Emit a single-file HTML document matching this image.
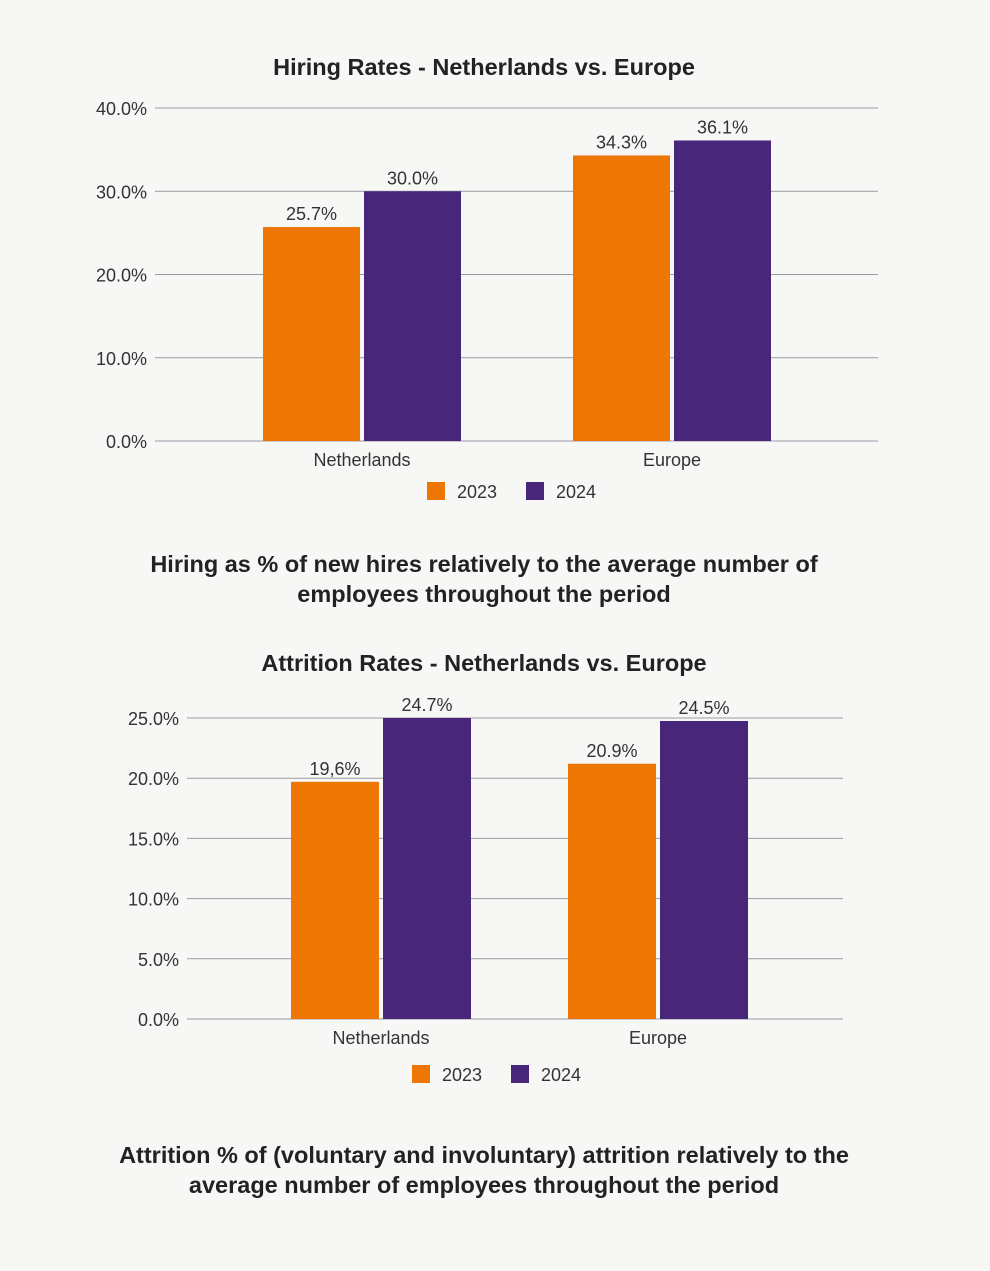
<!DOCTYPE html>
<html><head><meta charset="utf-8">
<style>
html,body{margin:0;padding:0;background:#f7f7f5;}
body{width:990px;height:1266px;overflow:hidden;font-family:"Liberation Sans",sans-serif;}
svg text{font-family:"Liberation Sans",sans-serif;}
</style></head>
<body>
<svg id="svg" width="990" height="1266">
<rect width="990" height="1266" fill="#f7f7f5"/>
<text x="484" y="75" text-anchor="middle" font-size="23.5" font-weight="bold" fill="#222">Hiring Rates - Netherlands vs. Europe</text>
<text x="484" y="572" text-anchor="middle" font-size="23.5" font-weight="bold" fill="#222">Hiring as % of new hires relatively to the average number of</text>
<text x="484" y="602" text-anchor="middle" font-size="23.5" font-weight="bold" fill="#222">employees throughout the period</text>
<text x="484" y="671" text-anchor="middle" font-size="23.5" font-weight="bold" fill="#222">Attrition Rates - Netherlands vs. Europe</text>
<text x="484" y="1163" text-anchor="middle" font-size="23.5" font-weight="bold" fill="#222">Attrition % of (voluntary and involuntary) attrition relatively to the</text>
<text x="484" y="1193" text-anchor="middle" font-size="23.5" font-weight="bold" fill="#222">average number of employees throughout the period</text>
</svg>
<script>
const categories = ["Netherlands", "Europe"];
const seriesNames = ["2023", "2024"];
const hiring2023 = [25.7, 34.3];
const hiring2024 = [30.0, 36.1];
const hiringLabels2023 = ["25.7%", "34.3%"];
const hiringLabels2024 = ["30.0%", "36.1%"];
const hiringTicks = [0, 10, 20, 30, 40];
const attrition2023 = [19.7, 21.2];
const attrition2024 = [25.0, 24.75];
const attritionLabels2023 = ["19,6%", "20.9%"];
const attritionLabels2024 = ["24.7%", "24.5%"];
const attritionTicks = [0, 5, 10, 15, 20, 25];

const NS = "http://www.w3.org/2000/svg";
const svg = document.getElementById("svg");
const colors = ["#ee7703", "#48267a"];
function mk(tag, attrs, parent) {
  const e = document.createElementNS(NS, tag);
  for (const k in attrs) e.setAttribute(k, attrs[k]);
  (parent || svg).appendChild(e);
  return e;
}
function chart(cfg) {
  const g = mk("g", {});
  
  
  const maxT = cfg.ticks[cfg.ticks.length - 1];
  const y = v => cfg.y0 - (v / maxT) * (cfg.y0 - cfg.yTop);
  cfg.ticks.forEach(t => {
    const ln = mk("line", {x1: cfg.x0, x2: cfg.x1, y1: y(t), y2: y(t), stroke: "#9a9aa6", "stroke-width": 1}, g);
    
    
    const tx = mk("text", {x: cfg.x0 - 8, y: y(t) + 7, "text-anchor": "end", "font-size": 18, fill: "#333"}, g);
    tx.textContent = t.toFixed(1) + "%";
    
    
  });
  const series = [cfg.s1, cfg.s2], labels = [cfg.l1, cfg.l2];
  categories.forEach((c, i) => {
    series.forEach((s, j) => {
      const bx = cfg.groupX[i] + j * (cfg.barW + cfg.gap);
      const r = mk("rect", {x: bx, y: y(s[i]), width: cfg.barW, height: y(0) - y(s[i]), fill: colors[j]}, g);
      
      
      const lt = mk("text", {x: bx + cfg.barW / 2, y: y(s[i]) - 7, "text-anchor": "middle", "font-size": 18, fill: "#333"}, g);
      lt.textContent = labels[j][i];
      
      
    });
    const ct = mk("text", {x: cfg.groupX[i] + cfg.barW + cfg.gap / 2, y: cfg.y0 + 25, "text-anchor": "middle", "font-size": 18, fill: "#333"}, g);
    ct.textContent = c;
    
    
  });
  seriesNames.forEach((n, j) => {
    const lx = cfg.legendX + j * 99;
    const sq = mk("rect", {x: lx, y: cfg.legendY - 9, width: 18, height: 18, fill: colors[j]}, g);
    
    
    const lt = mk("text", {x: lx + 30, y: cfg.legendY + 7, "font-size": 18, fill: "#333"}, g);
    lt.textContent = n;
    
    
  });
}
chart({name: "hiring-chart", x0: 155, x1: 878, y0: 441, yTop: 108, ticks: hiringTicks,
  s1: hiring2023, s2: hiring2024, l1: hiringLabels2023, l2: hiringLabels2024,
  groupX: [263, 573], barW: 97, gap: 4, legendX: 427, legendY: 491});
chart({name: "attrition-chart", x0: 187, x1: 843, y0: 1019, yTop: 718, ticks: attritionTicks,
  s1: attrition2023, s2: attrition2024, l1: attritionLabels2023, l2: attritionLabels2024,
  groupX: [291, 568], barW: 88, gap: 4, legendX: 412, legendY: 1074});
</script>
</body></html>
